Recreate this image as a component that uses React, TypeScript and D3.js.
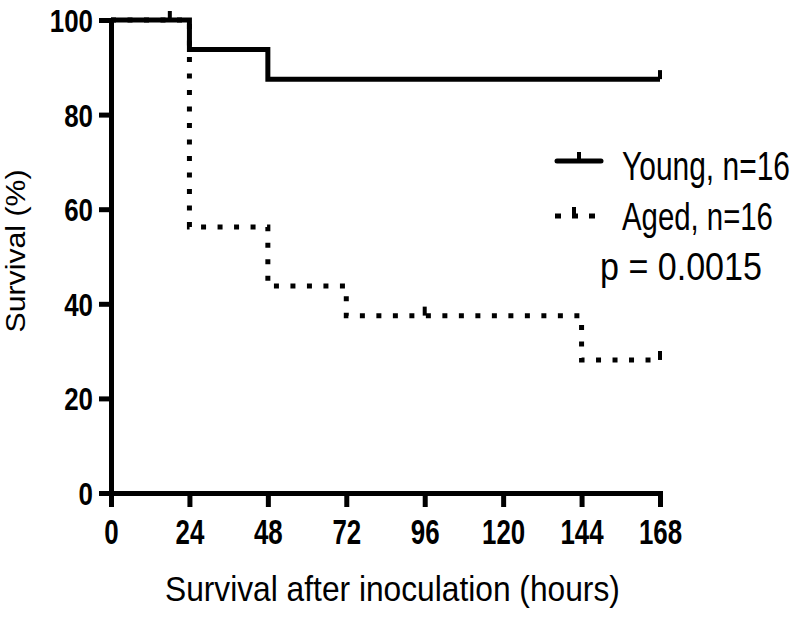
import React, { useEffect, useRef } from 'react';
import * as d3 from 'd3';

// Kaplan-Meier survival steps
const youngTimes = [0, 24, 48, 168];
const youngSurv = [100, 93.75, 87.5, 87.5];
const agedTimes = [0, 24, 48, 72, 144, 168];
const agedSurv = [100, 56.25, 43.75, 37.5, 28.125, 28.125];

// censored observations
const youngCensorT = [18, 168];
const youngCensorS = [100, 87.5];
const agedCensorT = [96, 168];
const agedCensorS = [37.5, 28.125];

const xTicks = [0, 24, 48, 72, 96, 120, 144, 168];
const yTicks = [0, 20, 40, 60, 80, 100];

const legendLabels = ['Young, n=16', 'Aged, n=16'];
const pText = 'p = 0.0015';

const FONT = '"Liberation Sans", Arial, sans-serif';

const App: React.FC = () => {
  const svgRef = useRef<SVGSVGElement>(null);

  useEffect(() => {
    if (!svgRef.current) return;
    document.body.style.margin = '0';
    const svg = d3.select(svgRef.current);
    svg.selectAll('*').remove();

    const x = d3.scaleLinear().domain([0, 168]).range([111, 660]);
    const y = d3.scaleLinear().domain([0, 100]).range([493, 20]);

    // text squeezed horizontally to a given width (the source picture is condensed)
    const fitText = (
      str: string, tx: number, ty: number, size: number, width: number,
      rotate = 0, anchor = 'start'
    ) => {
      const t = svg.append('text')
        .attr('text-anchor', anchor)
        .style('font-family', FONT)
        .style('font-size', `${size}px`)
        .text(str);
      const len = (t.node() as SVGTextElement).getComputedTextLength() || width;
      t.attr('transform', `translate(${tx},${ty}) rotate(${rotate}) scale(${width / len},1)`);
      return t;
    };

    // axes
    const gx = svg.append('g')
      .attr('transform', `translate(0,${y(0)})`)
      .call(d3.axisBottom(x).tickValues(xTicks).tickSize(14).tickSizeOuter(0).tickPadding(12));
    const gy = svg.append('g')
      .attr('transform', `translate(${x(0)},0)`)
      .call(d3.axisLeft(y).tickValues(yTicks).tickSize(12).tickSizeOuter(0).tickPadding(6));

    [gx, gy].forEach(g => {
      g.select('.domain').attr('stroke', '#000').attr('stroke-width', 5).attr('stroke-linecap', 'square');
      g.selectAll('.tick line').attr('stroke', '#000').attr('stroke-width', 5);
      g.selectAll<SVGTextElement, number>('.tick text')
        .attr('fill', '#000')
        .attr('lengthAdjust', 'spacingAndGlyphs')
        .attr('textLength', d => String(d).length * 14.4)
        .style('font-family', FONT)
        .style('font-weight', 'bold');
    });
    gx.selectAll('.tick text').style('font-size', '35px');
    gy.selectAll('.tick text').style('font-size', '32px').attr('dy', '0.36em');

    // survival curves
    const line = d3.line<[number, number]>()
      .x(d => x(d[0]))
      .y(d => y(d[1]))
      .curve(d3.curveStepAfter);

    const young: [number, number][] = youngTimes.map((t, i) => [t, youngSurv[i]]);
    const aged: [number, number][] = agedTimes.map((t, i) => [t, agedSurv[i]]);

    svg.append('path')
      .attr('d', line(aged))
      .attr('fill', 'none')
      .attr('stroke', '#000')
      .attr('stroke-width', 5)
      .attr('stroke-dasharray', '5,11.5');

    svg.append('path')
      .attr('d', line(young))
      .attr('fill', 'none')
      .attr('stroke', '#000')
      .attr('stroke-width', 5);

    // censor ticks
    const censor = (ts: number[], ss: number[]) => {
      svg.append('g').selectAll('line')
        .data(ts)
        .enter()
        .append('line')
        .attr('x1', d => x(d))
        .attr('x2', d => x(d))
        .attr('y1', (d, i) => y(ss[i]))
        .attr('y2', (d, i) => y(ss[i]) - 9)
        .attr('stroke', '#000')
        .attr('stroke-width', 4);
    };
    censor(youngCensorT, youngCensorS);
    censor(agedCensorT, agedCensorS);

    // legend
    const lg = svg.append('g');
    lg.append('line')
      .attr('x1', 557).attr('x2', 601).attr('y1', 161).attr('y2', 161)
      .attr('stroke', '#000').attr('stroke-width', 5).attr('stroke-linecap', 'round');
    lg.append('line')
      .attr('x1', 579).attr('x2', 579).attr('y1', 161).attr('y2', 152)
      .attr('stroke', '#000').attr('stroke-width', 4);
    lg.append('line')
      .attr('x1', 555).attr('x2', 600).attr('y1', 216).attr('y2', 216)
      .attr('stroke', '#000').attr('stroke-width', 5).attr('stroke-dasharray', '6,11');
    lg.append('line')
      .attr('x1', 574).attr('x2', 574).attr('y1', 216).attr('y2', 207)
      .attr('stroke', '#000').attr('stroke-width', 4);

    const legendSize = [40, 39];
    const legendLen = [168, 151];
    legendLabels.forEach((lbl, i) => fitText(lbl, 622, 180 + i * 50, legendSize[i], legendLen[i]));
    fitText(pText, 600, 280, 38, 162);

    // axis titles
    fitText('Survival (%)', 25, 251, 27, 163, -90, 'middle');
    fitText('Survival after inoculation (hours)', 165, 601, 35, 455);
  }, []);

  return (
    <svg ref={svgRef} width={800} height={625} style={{ position: 'absolute', left: 0, top: 0, background: '#fff' }} />
  );
};

export default App;
